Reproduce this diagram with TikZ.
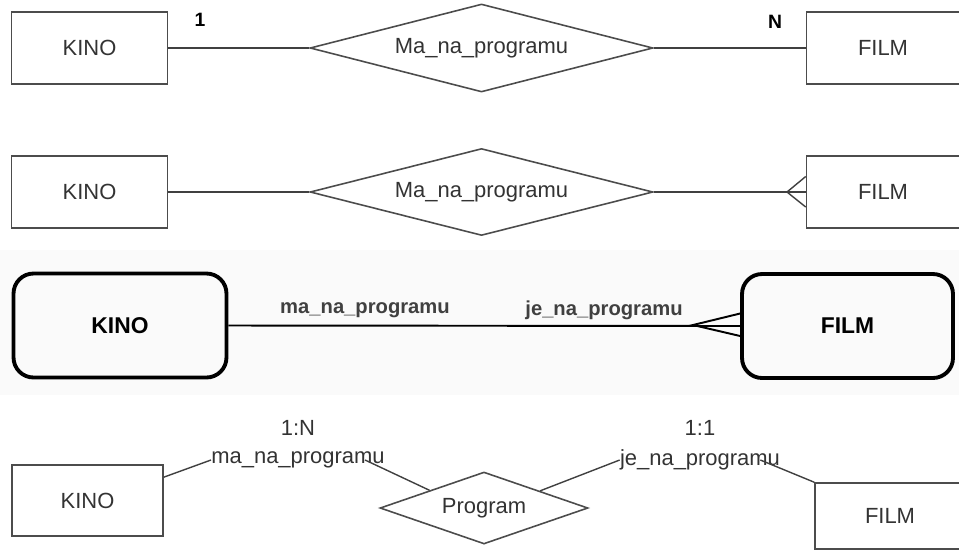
\documentclass[tikz,border=0pt]{standalone}
\usepackage{fontspec}
\setmainfont{Liberation Sans}
\usetikzlibrary{shapes.geometric}

\tikzset {
    ent/.style={rectangle, draw=black!70, line width=0.9pt, fill=white, text=black!80, minimum width=3.12cm, minimum height=1.44cm, font=\fontsize{12.5}{14}\selectfont},
    rel/.style={diamond, aspect=3.5, draw=black!70, line width=0.9pt, fill=white, inner sep=0pt, text=black!80, font=\fontsize{12.5}{14}\selectfont},
    bigent/.style={rectangle, rounded corners=0.4cm, draw=black, line width=2.2pt, minimum width=4.26cm, minimum height=2.08cm, font=\bfseries\fontsize{13}{15}\selectfont},
    lbl/.style={inner sep=0pt, text=black!80, font=\fontsize{12.5}{14}\selectfont},
    card/.style={inner sep=0pt, font=\bfseries\fontsize{11}{13}\selectfont},
    role/.style={inner sep=0pt, text=black!75, font=\bfseries\fontsize{11.5}{13}\selectfont},
    conn/.style={draw=black!75, line width=0.8pt},
}

\begin{document}
\begin{tikzpicture}[x=0.02cm, y=-0.02cm]
    \useasboundingbox (0, 0) rectangle (959, 552);
    \clip (0, 0) rectangle (959, 552);
    \fill [black!2] (0, 250) rectangle (959, 395);

    % Chen notation, cardinality as numbers
    \node (kinoA) at (89.5, 48) [ent] {KINO};
    \node (relA) at (481.5, 48) [rel, minimum width=6.86cm, minimum height=1.76cm] {Ma\_na\_programu};
    \node (filmA) at (883, 48) [ent, minimum width=3.06cm] {FILM};
    \node (oneA) at (200, 20) [card] {1};
    \node (manyA) at (775, 22) [card] {N};
    \draw [conn] (kinoA.east) -- (relA.west);
    \draw [conn] (relA.east) -- (filmA.west);

    % Chen notation with crow's foot
    \node (kinoB) at (89.5, 192) [ent] {KINO};
    \node (relB) at (481.5, 192) [rel, minimum width=6.86cm, minimum height=1.74cm] {Ma\_na\_programu};
    \node (filmB) at (883, 192) [ent, minimum width=3.06cm] {FILM};
    \coordinate (footB) at (787, 192);
    \draw [conn] (kinoB.east) -- (relB.west);
    \draw [conn] (relB.east) -- (filmB.west);
    \draw [conn] ([yshift=0.31cm]filmB.west) -- (footB) -- ([yshift=-0.3cm]filmB.west);

    % Barker notation
    \node (kinoC) at (120, 325.5) [bigent] {KINO};
    \node (filmC) at (847.5, 326) [bigent, minimum width=4.22cm] {FILM};
    \coordinate (footC) at (693, 325);
    \draw [line width=1.1pt] (kinoC.east) -- (filmC.west);
    \draw [line width=1.1pt] ([yshift=0.25cm]filmC.west) -- (footC) -- ([yshift=-0.2cm]filmC.west);
    \node (roleK) at (365, 310) [role] {ma\_na\_programu};
    \node (roleF) at (604, 310) [role] {je\_na\_programu};

    % relationship turned into an entity
    \node (kinoD) at (87.5, 500.5) [ent, minimum width=3.02cm, minimum height=1.42cm] {KINO};
    \node (progD) at (484, 508) [rel, minimum width=4.16cm, minimum height=1.44cm] {Program};
    \node (filmD) at (890, 516) [ent, minimum width=3.0cm, minimum height=1.32cm] {FILM};
    \node (roleD1) at (298, 460) [lbl] {ma\_na\_programu};
    \node (cardD1) at (298, 428) [lbl] {1:N};
    \node (roleD2) at (700, 460) [lbl] {je\_na\_programu};
    \node (cardD2) at (700, 428) [lbl] {1:1};
    \draw [conn] (kinoD.17) -- (roleD1.west);
    \draw [conn] ([xshift=-0.4cm]roleD1.east) -- (progD.162);
    \draw [conn] (progD.17) -- (roleD2.west);
    \draw [conn] ([xshift=-0.4cm]roleD2.east) -- (filmD.north west);
\end{tikzpicture}
\end{document}
